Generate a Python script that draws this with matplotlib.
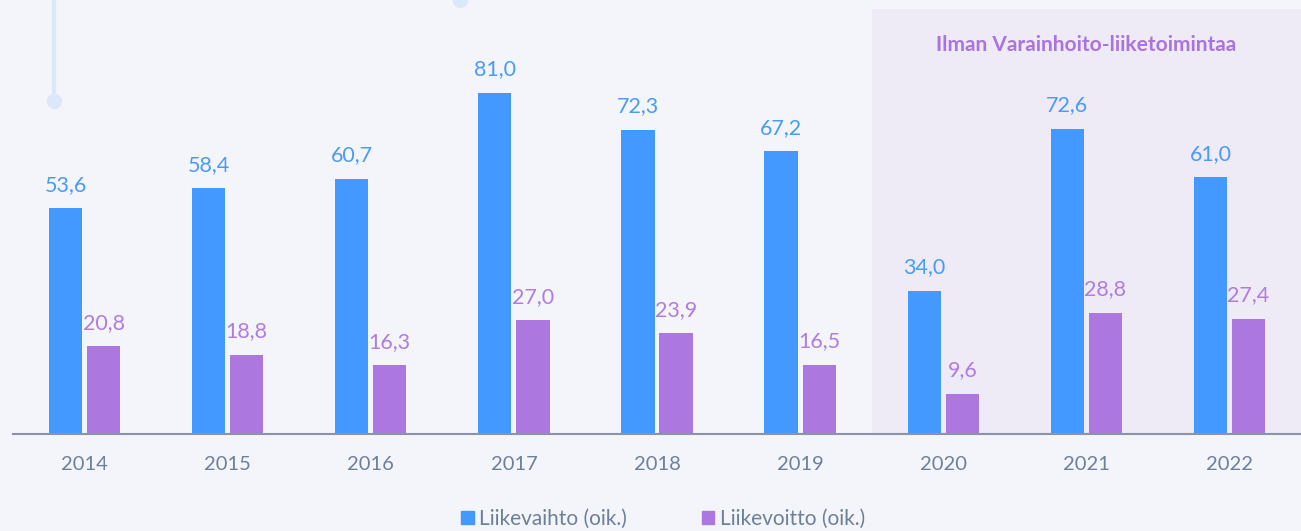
import matplotlib.pyplot as plt
import numpy as np
from matplotlib.patches import Rectangle
from matplotlib.lines import Line2D

years = ["2014", "2015", "2016", "2017", "2018", "2019", "2020", "2021", "2022"]
liikevaihto = [53.6, 58.4, 60.7, 81.0, 72.3, 67.2, 34.0, 72.6, 61.0]
liikevoitto = [20.8, 18.8, 16.3, 27.0, 23.9, 16.5, 9.6, 28.8, 27.4]
series_names = ["Liikevaihto (oik.)", "Liikevoitto (oik.)"]
shade_title = "Ilman Varainhoito-liiketoimintaa"
shade_from = 6  # index of 2020

BLUE = "#4399ff"
PURPLE = "#ac78df"
BG = "#f4f5fb"
SHADE = "#eeeaf6"
TICK = "#6d809a"
DECO = "#dbe8fa"

plt.rcParams['font.family'] = ['Lato', 'DejaVu Sans']

W, H = 1301, 531
fig = plt.figure(figsize=(W / 100, H / 100), dpi=100)
fig.patch.set_facecolor(BG)
ax = fig.add_axes([13 / W, (H - 434) / H, 1288 / W, 425 / H])
ax.set_facecolor(BG)

x = np.arange(len(years))
bw = 0.232
off = 0.133

ax.axvspan(shade_from - 0.5, len(years) - 0.5, color=SHADE, zorder=0, lw=0)
ax.text((shade_from + len(years) - 1) / 2, 92.5, shade_title, ha="center", va="center",
        fontsize=15, fontweight="bold", color="#a974de")

b1 = ax.bar(x - off, liikevaihto, bw, color=BLUE, zorder=2)
b2 = ax.bar(x + off, liikevoitto, bw, color=PURPLE, zorder=2)

for xi, v in zip(x, liikevaihto):
    ax.annotate(f"{v:.1f}".replace(".", ","), (xi - off, v), xytext=(0, 17),
                textcoords="offset points", ha="center", va="center",
                fontsize=15.5, color="#4a9bf6")
for xi, v in zip(x, liikevoitto):
    ax.annotate(f"{v:.1f}".replace(".", ","), (xi + off, v), xytext=(0, 17),
                textcoords="offset points", ha="center", va="center",
                fontsize=15.5, color="#b07ce0")

ax.set_xlim(-0.5, len(years) - 0.5)
ax.set_ylim(0, 101)
ax.set_xticks(x)
ax.set_xticklabels(years, fontsize=14.5, color=TICK)
ax.tick_params(axis="x", length=0, pad=16)
ax.set_yticks([])
for s in ["top", "right", "left"]:
    ax.spines[s].set_visible(False)
ax.spines["bottom"].set_color("#8a93a8")
ax.spines["bottom"].set_linewidth(1.5)

# decorative lines at top
fig.add_artist(Line2D([54 / W, 54 / W], [1, 1 - 100 / H], color=DECO, lw=3,
                      transform=fig.transFigure))
fig.add_artist(Line2D([54 / W], [1 - 101 / H], marker="o", ms=10, color=DECO,
                      transform=fig.transFigure))
fig.add_artist(Line2D([460 / W], [1 - 0 / H], marker="o", ms=10, color=DECO,
                      transform=fig.transFigure))

# legend
handles = [Rectangle((0, 0), 1, 1, color=BLUE), Rectangle((0, 0), 1, 1, color=PURPLE)]
leg = fig.legend(handles, series_names, loc="center", bbox_to_anchor=(663 / W, 1 - 519 / H),
                 ncol=2, frameon=False, fontsize=15, handlelength=0.6, handleheight=0.6,
                 handletextpad=0.25, columnspacing=3.6)
for t in leg.get_texts():
    t.set_color(TICK)

fig.savefig("out.png", dpi=100, facecolor=BG)
